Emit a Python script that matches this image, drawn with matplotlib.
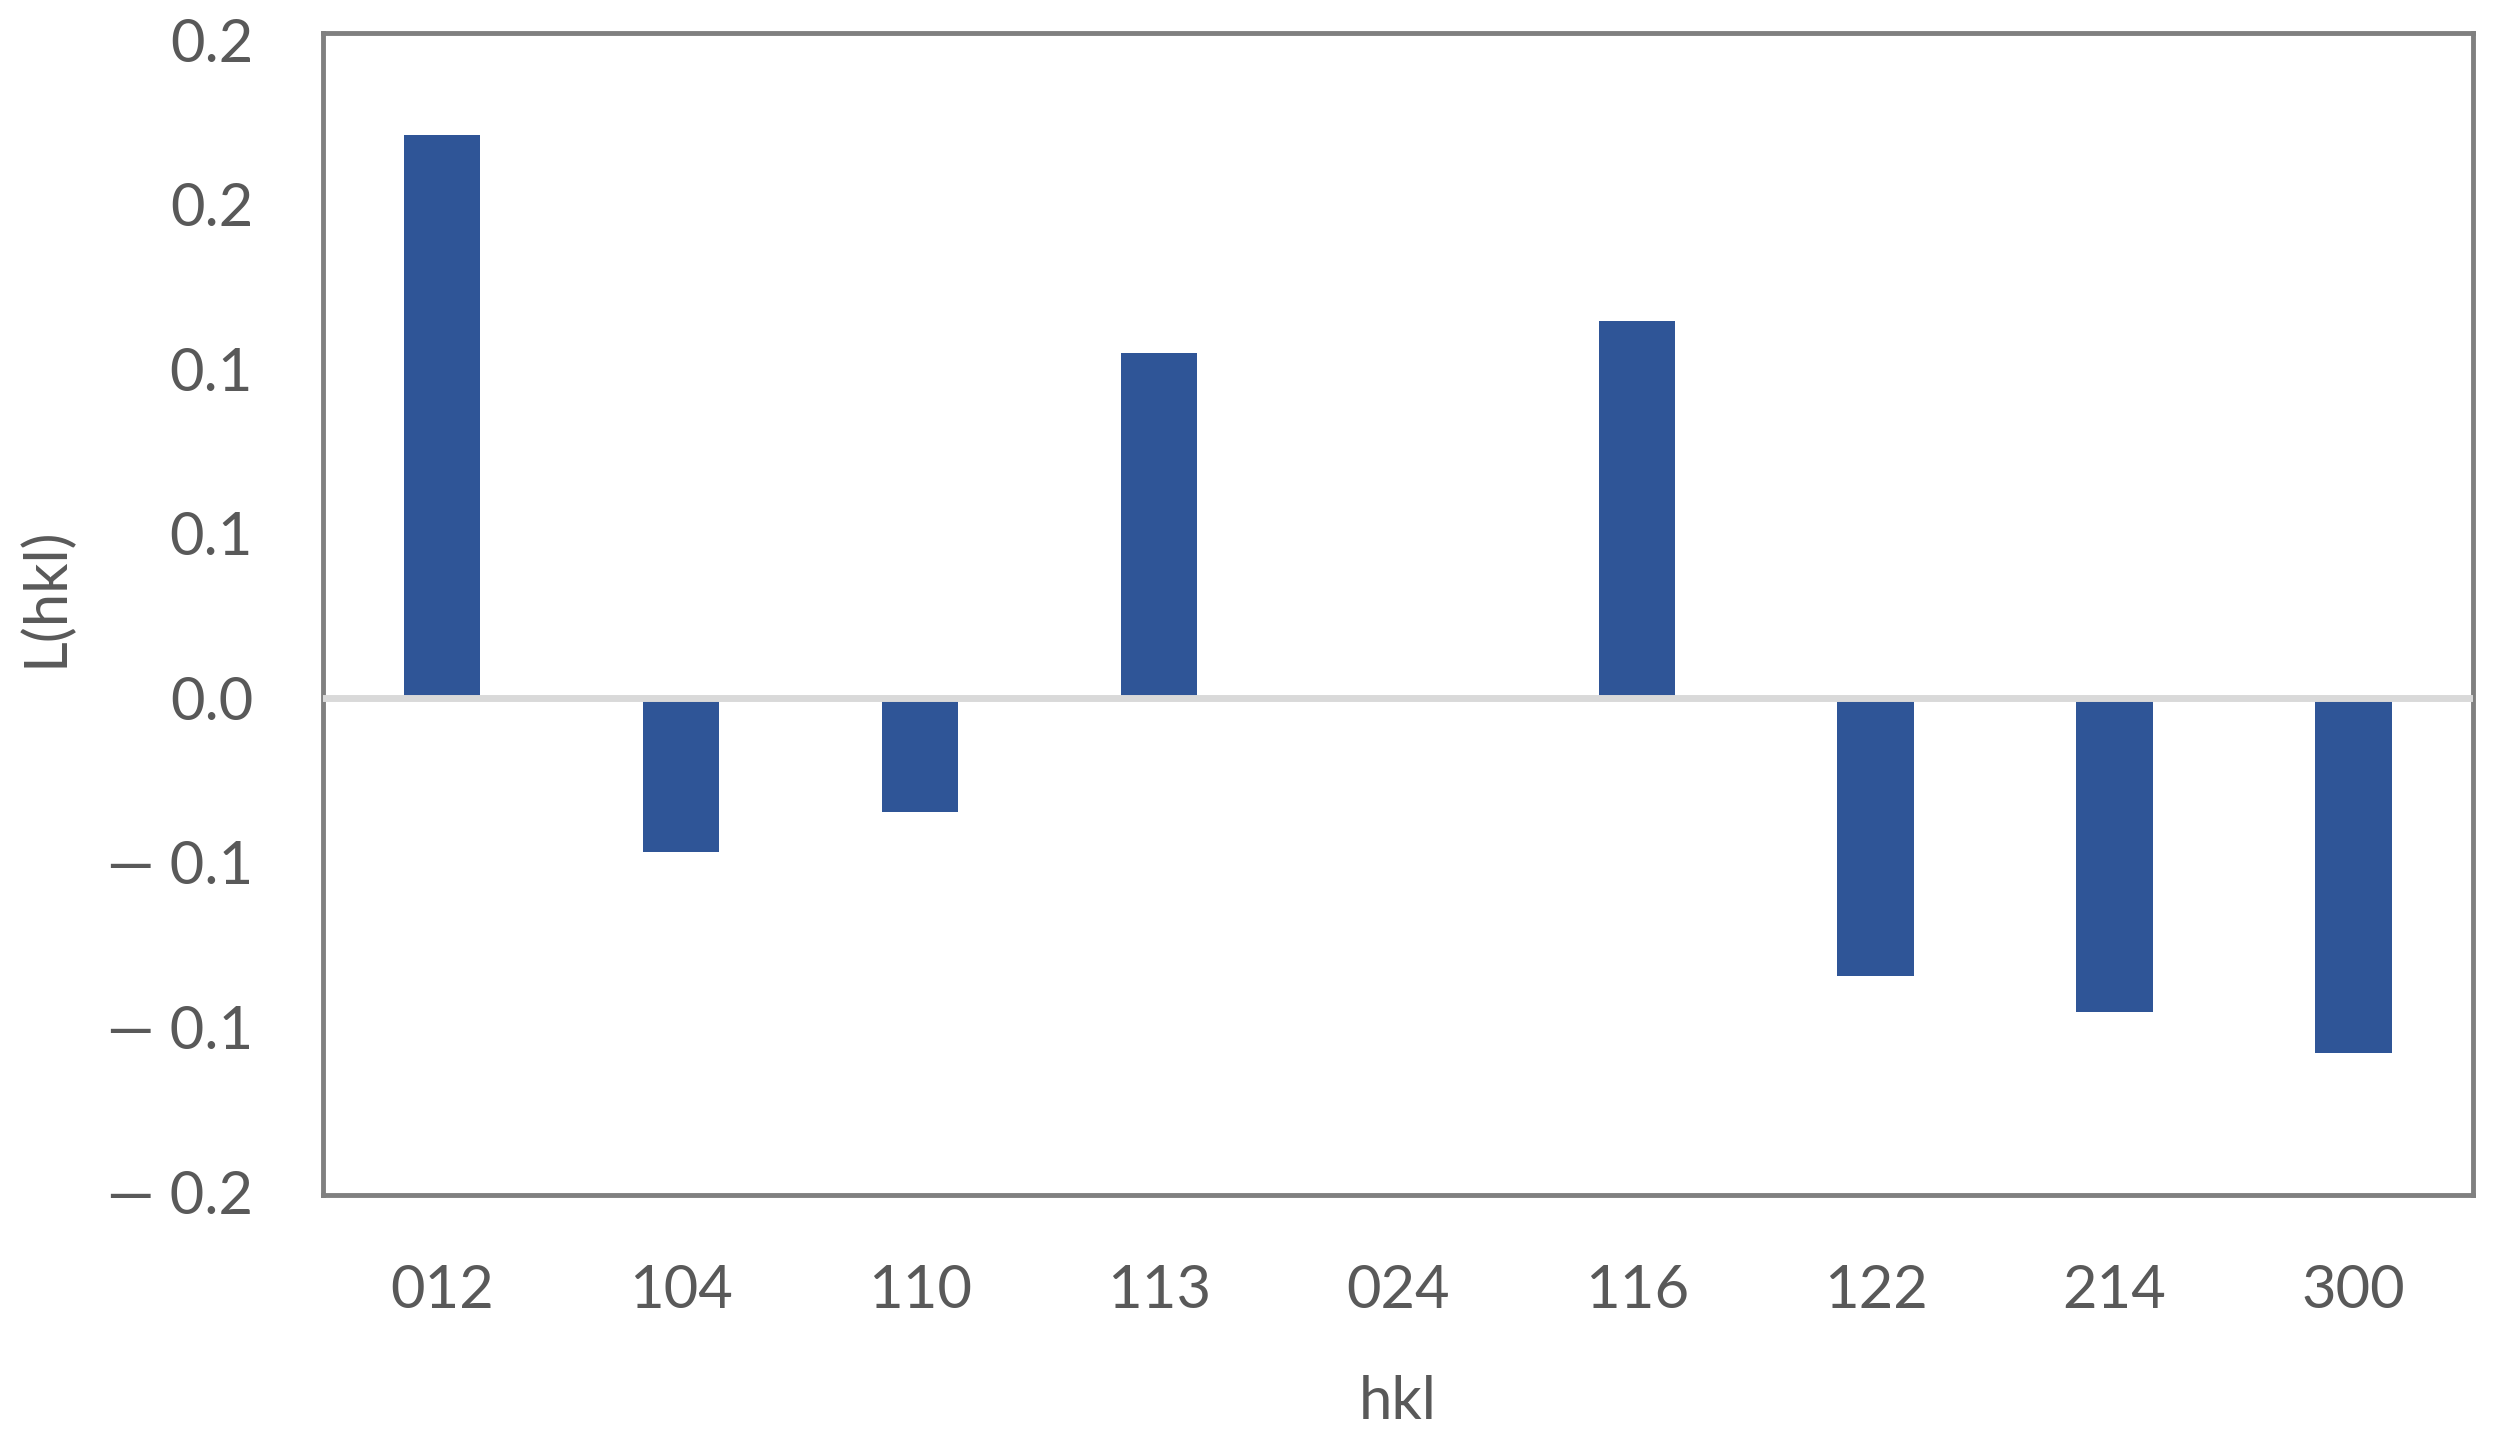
import numpy as np
import matplotlib
matplotlib.use("Agg")
import matplotlib.pyplot as plt

# data
hkl = ["012", "104", "110", "113", "024", "116", "122", "214", "300"]
L_hkl = [0.171, -0.0467, -0.0347, 0.1048, 0.0, 0.1145, -0.0844, -0.0954, -0.108]

y_ticks = [-0.15, -0.10, -0.05, 0.0, 0.05, 0.10, 0.15, 0.20]
y_tick_labels = ["\u2014 0.2", "\u2014 0.1", "\u2014 0.1", "0.0", "0.1", "0.1", "0.2", "0.2"]

text_col = "#595959"
bar_col = "#2F5597"

plt.rcParams["font.family"] = ["Lato", "DejaVu Sans"]

fig = plt.figure(figsize=(24.93, 14.43), dpi=100)
ax = fig.add_axes([0.1294, 0.1719, 0.8626, 0.805])

x = np.arange(len(hkl))
ax.bar(x, L_hkl, width=0.32, color=bar_col, zorder=2)
ax.axhline(0, color="#D9D9D9", lw=5, zorder=3)

# plot frame sits a hair outside the -0.15..0.20 axis range
ax.set_xlim(-0.5, len(hkl) - 0.5)
ax.set_ylim(-0.151, 0.2019)
ax.set_xticks(x)
ax.set_xticklabels(hkl)
ax.set_yticks(y_ticks)
ax.set_yticklabels(y_tick_labels)

ax.tick_params(axis="both", length=0, labelsize=43, labelcolor=text_col)
ax.tick_params(axis="x", pad=50)
ax.tick_params(axis="y", pad=50)

for sp in ax.spines.values():
    sp.set_color("#808080")
    sp.set_linewidth(3.5)

ax.set_xlabel("hkl", fontsize=43, color=text_col)
ax.xaxis.set_label_coords(0.5, -0.155)
ax.set_ylabel("L(hkl)", fontsize=43, color=text_col, va="center")
ax.yaxis.set_label_coords(-0.129, 0.515)

fig.savefig("out.png", dpi=100)
